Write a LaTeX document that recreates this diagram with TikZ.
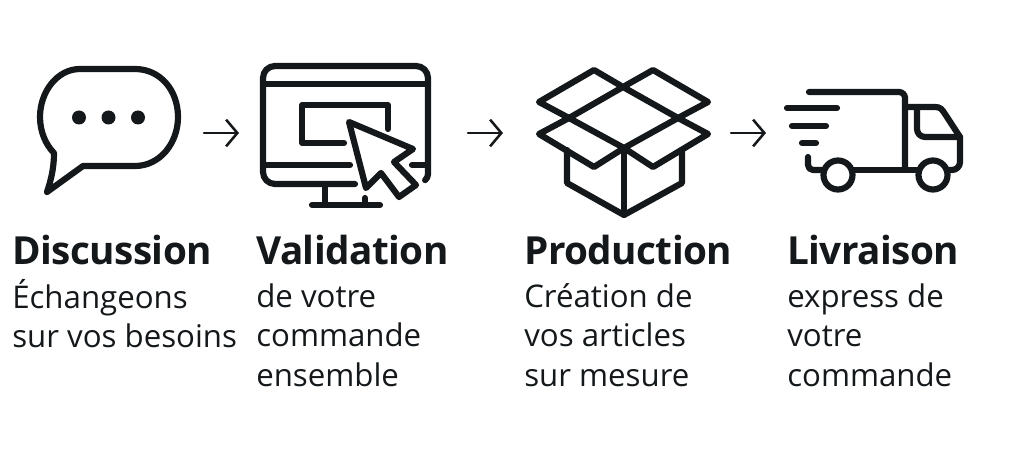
\documentclass[tikz,border=0pt]{standalone}
\usepackage{xcolor}
\usepackage{fontspec}
\setmainfont{Open Sans}
\usetikzlibrary{arrows.meta}
\definecolor{iconink}{HTML}{14181A}
\tikzset{
  icon/.style={draw=iconink, line width=4.4pt, line join=round, line cap=round},
  flow/.style={draw=iconink, line width=1.8pt, line cap=round, -{Straight Barb[length=8pt, width=19pt, line width=1.8pt]}},
  heading/.style={anchor=base west, inner sep=0pt, text=iconink, font=\fontsize{27.5}{30}\selectfont\bfseries\addfontfeatures{LetterSpace=-1.4}},
  subtext/.style={anchor=north west, inner sep=0pt, align=left, text=iconink, font=\fontsize{22.2}{28.1}\selectfont},
}
\begin{document}
\begin{tikzpicture}[x=0.025cm, y=-0.025cm]
            \useasboundingbox (0,0) rectangle (1024,465);
            % bubble
            \draw[icon] (83,166) -- (135,166) .. controls (160,166) and (178,143) .. (178,117)
                .. controls (178,90) and (160,69) .. (135,69) -- (80,69)
                .. controls (57,69) and (40,92) .. (40,117)
                .. controls (40,132) and (46,145) .. (54,153)
                .. controls (54,168) and (51,180) .. (47,192) -- cycle;
            \foreach \x in {79,108.5,138}
                \fill[iconink] (\x,117.5) circle (7);
            % monitor
            \draw[icon] (355,184) -- (275,184) arc[start angle=90, end angle=180, radius=12] -- (263,78)
                arc[start angle=180, end angle=270, radius=12] -- (416,66)
                arc[start angle=270, end angle=360, radius=12] -- (428,174)
                arc[start angle=0, end angle=50, radius=8];
            \draw[icon] (263,84) -- (428,84);
            \draw[icon] (263,165) -- (350,165);
            \draw[icon] (412,165) -- (428,165);
            \draw[icon] (344,143) -- (302,143) -- (302,105) -- (388,105) -- (388,129);
            \draw[icon] (325,184) -- (325,205);
            \draw[icon] (312,205) -- (380,205);
            \draw[icon] (365,198) -- (365,205);
            \draw[icon] (349,122) -- (413,149) -- (394,162) -- (416,185) -- (399,197) -- (381,173) -- (366,188) -- cycle;
            % box
            \draw[icon] (594,70) -- (623,87) -- (653,70) -- (708,102) -- (678,118) -- (708,134) -- (653,167)
                -- (624,148) -- (594,167) -- (539,134) -- (569,118) -- (539,102) -- cycle;
            \draw[icon] (623,87) -- (678,118) -- (624,148) -- (569,118) -- cycle;
            \draw[icon] (567,150) -- (567,183) -- (624,215) -- (682,183) -- (682,150);
            \draw[icon] (624,148) -- (624,215);
            % truck
            \draw[icon] (809,92) -- (899,92) arc[start angle=270, end angle=360, radius=6] -- (905,168);
            \draw[icon] (787,108) -- (837,108);
            \draw[icon] (792,126) -- (826,126);
            \draw[icon] (802,143) -- (816,143);
            \draw[icon] (808,157) -- (808,165) arc[start angle=180, end angle=90, radius=5] -- (823,170);
            \draw[icon] (853,170) -- (917,170);
            \draw[icon] (948,170) -- (952,170) arc[start angle=90, end angle=0, radius=8] -- (960,137)
                -- (945,114) .. controls (942,109) and (940,107) .. (935,107) -- (905,107);
            \draw[icon] (917,107) -- (917,129) arc[start angle=180, end angle=90, radius=8] -- (960,137);
            \draw[icon] (838,175) circle (14.5);
            \draw[icon] (933,175) circle (14.5);
            % arrows
            \coordinate (flow1a) at (204,133);
            \coordinate (flow1b) at (239,133);
            \coordinate (flow2a) at (468,133);
            \coordinate (flow2b) at (503,133);
            \coordinate (flow3a) at (731,133);
            \coordinate (flow3b) at (766,133);
            \draw[flow] (flow1a) -- (flow1b);
            \draw[flow] (flow2a) -- (flow2b);
            \draw[flow] (flow3a) -- (flow3b);
            % labels
            \node[heading] at (12,265) (discussion) {Discussion};
            \node[subtext] at (12,279) (discussiontxt) {Échangeons\\sur vos besoins};
            \node[heading] at (256,265) (validation) {Validation};
            \node[subtext] at (256,283) (validationtxt) {de votre\\commande\\ensemble};
            \node[heading] at (524,265) (production) {Production};
            \node[subtext] at (524,283) (productiontxt) {Création de\\vos articles\\sur mesure};
            \node[heading] at (787,265) (livraison) {Livraison};
            \node[subtext] at (787,283) (livraisontxt) {express de\\votre\\commande};
        \end{tikzpicture}
\end{document}
